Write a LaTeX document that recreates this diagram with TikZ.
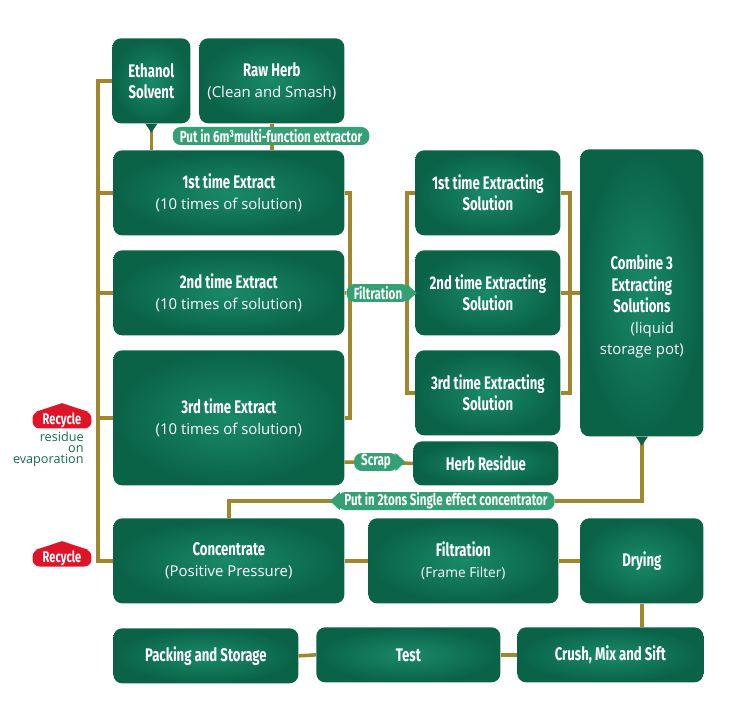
\documentclass[tikz,border=0pt]{standalone}
\usepackage{fontspec}
\setmainfont{Open Sans}
\newfontfamily\headfont[FakeStretch=0.72]{Fira Sans}
\usetikzlibrary{positioning, backgrounds, calc}
\definecolor{boxdark}{HTML}{0A6247}
\definecolor{boxlight}{HTML}{198A69}
\definecolor{pillgreen}{HTML}{34A074}
\definecolor{linegold}{HTML}{A0872D}
\definecolor{recred}{HTML}{E01428}
\definecolor{notegreen}{HTML}{146B50}
\tikzset{
	stepbox/.style={
			inner color=boxlight, outer color=boxdark, rounded corners=5pt,
			text=white, align=center, inner sep=0pt, anchor=north west,
			font=\headfont\bfseries\fontsize{10.4}{12}\selectfont
		}
}
\tikzset{
	boxsize/.style 2 args={minimum width=#1*0.02cm, minimum height=#2*0.02cm}
}
\tikzset{
	pill/.style={
			fill=pillgreen, rounded corners=4.5pt, text=white,
			minimum height=0.36cm, inner xsep=4pt, inner ysep=0pt,
			font=\headfont\bfseries\fontsize{9.2}{10}\selectfont
		}
}
\tikzset{
	recycle/.style={
			fill=recred, rounded corners=4pt, text=white,
			minimum width=1.18cm, minimum height=0.34cm, inner sep=0pt,
			font=\headfont\bfseries\fontsize{8.8}{10}\selectfont
		}
}
\tikzset{
	link/.style={draw=linegold, line width=2pt}
}
\newcommand{\subline}[1]{{\normalfont\fontsize{8.5}{11}\selectfont #1}}

\begin{document}
\begin{tikzpicture}[x=0.02cm, y=-0.02cm]

			\useasboundingbox (0,0) rectangle (750,709);

			\begin{scope}
				\node[stepbox, boxsize={78}{85}] (eth) at (112,38) {Ethanol\\Solvent};
				\node[stepbox, boxsize={145}{85}] (raw) at (199,38) {Raw Herb\\\subline{(Clean and Smash)}};

				\node[stepbox, boxsize={231}{85}] (ext1) at (113,150) {1st time Extract\\\subline{(10 times of solution)}};
				\node[stepbox, boxsize={231}{85}] (ext2) at (113,250) {2nd time Extract\\\subline{(10 times of solution)}};
				\node[stepbox, boxsize={231}{135}] (ext3) at (113,350) {3rd time Extract\\\subline{(10 times of solution)}};

				\node[stepbox, boxsize={145}{85}] (sol1) at (415,150) {1st time Extracting\\Solution};
				\node[stepbox, boxsize={145}{85}] (sol2) at (415,250) {2nd time Extracting\\Solution};
				\node[stepbox, boxsize={145}{85}] (sol3) at (415,350) {3rd time Extracting\\Solution};

				\node[stepbox, boxsize={123}{287}] (comb) at (580,149) {\rule{0pt}{24pt}Combine 3\\Extracting\\Solutions\\\subline{\hspace{1.4em}(liquid}\\\subline{storage pot)}};
				\node[stepbox, boxsize={145}{44}] (resid) at (413,441) {Herb Residue};

				\node[stepbox, boxsize={231}{85}] (conc) at (113,518) {Concentrate\\\subline{(Positive Pressure)}};
				\node[stepbox, boxsize={190}{85}] (filt) at (368,518) {Filtration\\{\normalfont\fontsize{7.8}{10}\selectfont (Frame Filter)}};
				\node[stepbox, boxsize={123}{85}] (dry) at (580,518) {Drying};

				\node[stepbox, boxsize={185}{55}] (pack) at (113,628) {Packing and Storage};
				\node[stepbox, boxsize={184}{55}] (test) at (316,627) {Test};
				\node[stepbox, boxsize={186}{55}] (crush) at (517,627) {Crush, Mix and Sift};
			\end{scope}

			% little pointers under two boxes
			\fill[boxdark] ([xshift=-0.12cm]eth.south) -- ([yshift=-0.18cm]eth.south) -- ([xshift=0.12cm]eth.south) -- cycle;
			\fill[boxdark] ([xshift=-0.12cm]comb.south) -- ([yshift=-0.18cm]comb.south) -- ([xshift=0.12cm]comb.south) -- cycle;

			\begin{scope}
				\node[pill] (put6) at (271,136) {Put in 6m³multi-function extractor};
				\node[pill] (filtr) at (378,293) {Filtration};
				\node[pill] (scrap) at (376,462) {Scrap};
				\node[pill] (put2) at (446,501) {Put in 2tons Single effect concentrator};

				\fill[pillgreen] ([xshift=-0.06cm]filtr.north east) -- ([xshift=0.14cm]filtr.east) -- ([xshift=-0.06cm]filtr.south east) -- cycle;
				\fill[pillgreen] ([xshift=-0.06cm]scrap.north east) -- ([xshift=0.14cm]scrap.east) -- ([xshift=-0.06cm]scrap.south east) -- cycle;
				\fill[pillgreen] ([xshift=0.06cm]put2.north west) -- ([xshift=-0.14cm]put2.west) -- ([xshift=0.06cm]put2.south west) -- cycle;
			\end{scope}

			\begin{scope}
				\node[recycle] (rec1) at (62,420) {Recycle};
				\node[recycle] (rec2) at (62,558) {Recycle};
				\fill[recred] ([xshift=0.05cm, yshift=-0.02cm]rec1.north west) -- ([yshift=0.16cm]rec1.north) -- ([xshift=-0.05cm, yshift=-0.02cm]rec1.north east) -- cycle;
				\fill[recred] ([xshift=0.05cm, yshift=-0.02cm]rec2.north west) -- ([yshift=0.16cm]rec2.north) -- ([xshift=-0.05cm, yshift=-0.02cm]rec2.north east) -- cycle;

				\node[anchor=north east, align=right, inner sep=0pt, text=notegreen,
					font=\fontsize{7.2}{6.2}\selectfont] (note) at (84,432) {residue\\on\\evaporation};
			\end{scope}

			\begin{scope}[on background layer]
				\coordinate (lbus) at (98,0);
				\coordinate (rbus) at (350,0);
				\coordinate (sbus) at (407,0);
				\coordinate (cbus) at (570,0);

				\draw[link] (eth.west) -| (lbus |- conc.west) -- (conc.west);
				\draw[link] (lbus |- ext1.west) -- (ext1.west);
				\draw[link] (lbus |- ext2.west) -- (ext2.west);
				\draw[link] (lbus |- ext3.west) -- (ext3.west);
				\draw[link] (eth.south) -- (eth.south |- ext1.north);
				\draw[link] (raw.south) -- (raw.south |- ext1.north);

				\draw[link] (ext1.east) -| (rbus |- ext3.east) -- (ext3.east);
				\draw[link] (ext2.east) -- (filtr.west);
				\draw[link] (filtr.east) -- (sol2.west);
				\draw[link] (sol1.west) -| (sbus |- sol3.west) -- (sol3.west);
				\draw[link] (sol1.east) -| (cbus |- sol3.east) -- (sol3.east);
				\draw[link] (sol2.east) -- (comb.west);

				\draw[link] (scrap.west -| ext3.east) -- (resid.west);
				\draw[link] (comb.south) |- (put2.east);
				\draw[link] (put2.west) -| (conc.north);

				\draw[link] (conc.east) -- (filt.west);
				\draw[link] (filt.east) -- (dry.west);
				\draw[link] (dry.south) -- (dry.south |- crush.north);
				\draw[link] (crush.west) -- (test.east);
				\draw[link] (test.west) -- (pack.east);
			\end{scope}

		\end{tikzpicture}
\end{document}
